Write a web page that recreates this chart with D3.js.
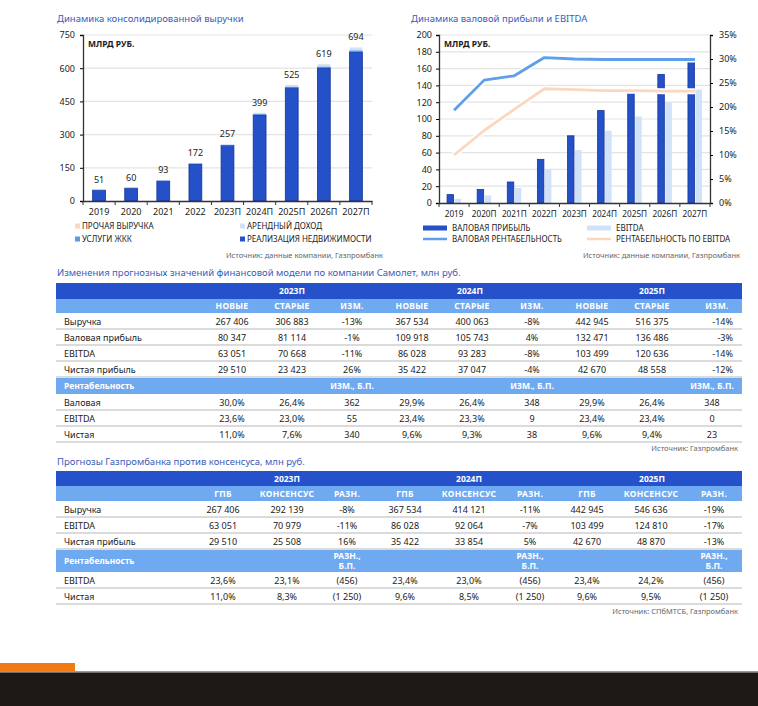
<!DOCTYPE html>
<html>
<head>
<meta charset="utf-8">
<script src="https://cdn.jsdelivr.net/npm/d3@7"></script>
<style>
  body { margin: 0; background: #fff; }
  svg text { font-family: "Noto Sans", Roboto, sans-serif; fill: #222; }
</style>
</head>
<body>
<svg id="page"></svg>
<script>
// ---- data: revenue chart
var years1 = ['2019', '2020', '2021', '2022', '2023П', '2024П', '2025П', '2026П', '2027П'];
var realEstate = [49, 58, 90, 167, 251, 389, 512, 602, 674];
var utilities = [1, 1, 2, 3, 3, 4, 5, 6, 7];
var rent = [1, 1, 1, 2, 3, 5, 7, 10, 12];
var otherRev = [0, 0, 0, 0, 0, 1, 1, 1, 1];
var revTotals = [51, 60, 93, 172, 257, 399, 525, 619, 694];
var revTicks = [0, 150, 300, 450, 600, 750];

// ---- data: gross profit / EBITDA chart
var years2 = ['2019', '2020П', '2021П', '2022П', '2023П', '2024П', '2025П', '2026П', '2027П'];
var grossProfit = [10, 16, 25, 52, 80, 110, 132, 153, 170];
var ebitda = [5, 9, 18, 40, 63, 86, 103, 120, 135];
var grossMargin = [19.3, 25.6, 26.5, 30.3, 30.0, 29.9, 29.9, 29.9, 29.9];
var ebitdaMargin = [10.0, 15.1, 19.5, 23.8, 23.6, 23.4, 23.4, 23.3, 23.3];
var gpTicks = [0, 20, 40, 60, 80, 100, 120, 140, 160, 180, 200];
var pctTicks = [0, 5, 10, 15, 20, 25, 30, 35];

// ---- data: table 1
var t1Years = ['2023П', '2024П', '2025П'];
var t1Cols = ['НОВЫЕ', 'СТАРЫЕ', 'ИЗМ.'];
var t1Rows = [
  ['Выручка', '267 406', '306 883', '-13%', '367 534', '400 063', '-8%', '442 945', '516 375', '-14%'],
  ['Валовая прибыль', '80 347', '81 114', '-1%', '109 918', '105 743', '4%', '132 471', '136 486', '-3%'],
  ['EBITDA', '63 051', '70 668', '-11%', '86 028', '93 283', '-8%', '103 499', '120 636', '-14%'],
  ['Чистая прибыль', '29 510', '23 423', '26%', '35 422', '37 047', '-4%', '42 670', '48 558', '-12%']
];
var t1Margins = [
  ['Валовая', '30,0%', '26,4%', '362', '29,9%', '26,4%', '348', '29,9%', '26,4%', '348'],
  ['EBITDA', '23,6%', '23,0%', '55', '23,4%', '23,3%', '9', '23,4%', '23,4%', '0'],
  ['Чистая', '11,0%', '7,6%', '340', '9,6%', '9,3%', '38', '9,6%', '9,4%', '23']
];

// ---- data: table 2
var t2Cols = ['ГПБ', 'КОНСЕНСУС', 'РАЗН.'];
var t2Rows = [
  ['Выручка', '267 406', '292 139', '-8%', '367 534', '414 121', '-11%', '442 945', '546 636', '-19%'],
  ['EBITDA', '63 051', '70 979', '-11%', '86 028', '92 064', '-7%', '103 499', '124 810', '-17%'],
  ['Чистая прибыль', '29 510', '25 508', '16%', '35 422', '33 854', '5%', '42 670', '48 870', '-13%']
];
var t2Margins = [
  ['EBITDA', '23,6%', '23,1%', '(456)', '23,4%', '23,0%', '(456)', '23,4%', '24,2%', '(456)'],
  ['Чистая', '11,0%', '8,3%', '(1 250)', '9,6%', '8,5%', '(1 250)', '9,6%', '9,5%', '(1 250)']
];

var W = 758, H = 706;
var DARK = '#2450c8', DARK_STROKE = '#17359a', MID = '#5b9be6', LIGHT = '#cfe2f8', PEACH = '#fbd7bd';
var TITLE = '#3a5bb8', HEAD1 = '#2552cb', HEAD2 = '#6fa9ef', GRID = '#e3e3e3', SEP = '#cfcfcf';

var svg = d3.select('#page').attr('width', W).attr('height', H);

function title(x, y, s) {
  svg.append('text').attr('x', x).attr('y', y).text(s)
    .style('font-size', '9.5px').style('fill', TITLE);
}
function source(x, y, s) {
  svg.append('text').attr('x', x).attr('y', y).attr('text-anchor', 'end').text(s)
    .style('font-size', '7.5px').style('fill', '#666');
}

// ================= chart 1 =================
title(57, 22, 'Динамика консолидированной выручки');
var c1 = { l: 83, r: 372, t: 35, b: 201 };
var x1 = d3.scaleBand().domain(years1).range([c1.l, c1.r]).paddingInner(0.6).paddingOuter(0.3);
var y1 = d3.scaleLinear().domain([0, 750]).range([c1.b, c1.t]);

var g1 = svg.append('g');
g1.selectAll('line.grid').data(revTicks.slice(1)).enter().append('line')
  .attr('x1', c1.l).attr('x2', c1.r).attr('y1', y1).attr('y2', y1)
  .attr('stroke', GRID).attr('stroke-width', 1.2);

var layers = [realEstate, utilities, rent, otherRev];
var layerColors = [DARK, MID, LIGHT, PEACH];
years1.forEach(function (yr, i) {
  var base = 0;
  layers.forEach(function (arr, k) {
    var v = arr[i];
    if (v > 0) {
      g1.append('rect')
        .attr('x', x1(yr)).attr('width', x1.bandwidth())
        .attr('y', y1(base + v)).attr('height', y1(base) - y1(base + v))
        .attr('fill', layerColors[k])
        .attr('stroke', k === 0 ? DARK_STROKE : 'none').attr('stroke-width', k === 0 ? 0.8 : 0);
    }
    base += v;
  });
});
g1.selectAll('text.val').data(revTotals).enter().append('text')
  .attr('x', function (d, i) { return x1(years1[i]) + x1.bandwidth() / 2; })
  .attr('y', function (d) { return y1(d) - 7; })
  .attr('text-anchor', 'middle').text(function (d) { return d; })
  .style('font-size', '9px');

var ax1 = g1.append('g').attr('transform', 'translate(' + c1.l + ',0)')
  .call(d3.axisLeft(y1).tickValues(revTicks).tickSize(3).tickPadding(5));
var bx1 = g1.append('g').attr('transform', 'translate(0,' + c1.b + ')')
  .call(d3.axisBottom(x1).tickSize(0).tickPadding(8));
// ticks between categories
g1.selectAll('line.sep').data(d3.range(years1.length + 1)).enter().append('line')
  .attr('x1', function (i) { return c1.l + i * (c1.r - c1.l) / years1.length; })
  .attr('x2', function (i) { return c1.l + i * (c1.r - c1.l) / years1.length; })
  .attr('y1', c1.b).attr('y2', c1.b + 4).attr('stroke', '#333').attr('stroke-width', 1);
[ax1, bx1].forEach(function (a) {
  a.select('.domain').attr('stroke', '#333').attr('stroke-width', 1.3);
  a.selectAll('text').style('font-size', '9px').style('fill', '#222');
});
g1.append('text').attr('x', 88).attr('y', 47).text('МЛРД РУБ.')
  .style('font-size', '8.5px').style('font-weight', 'bold');

var leg1 = [
  { t: 'ПРОЧАЯ ВЫРУЧКА', c: PEACH, x: 75, y: 229 },
  { t: 'АРЕНДНЫЙ ДОХОД', c: LIGHT, x: 240, y: 229 },
  { t: 'УСЛУГИ ЖКК', c: MID, x: 75, y: 242 },
  { t: 'РЕАЛИЗАЦИЯ НЕДВИЖИМОСТИ', c: DARK, x: 240, y: 242 }
];
leg1.forEach(function (d) {
  svg.append('rect').attr('x', d.x).attr('y', d.y - 5.5).attr('width', 5).attr('height', 5).attr('fill', d.c);
  svg.append('text').attr('x', d.x + 7).attr('y', d.y).text(d.t).style('font-size', '8px');
});
source(383, 258, 'Источник: данные компании, Газпромбанк');

// ================= chart 2 =================
title(411, 22, 'Динамика валовой прибыли и EBITDA');
var c2 = { l: 439, r: 710, t: 35, b: 203 };
var x2 = d3.scaleBand().domain(years2).range([c2.l, c2.r]);
var y2 = d3.scaleLinear().domain([0, 200]).range([c2.b, c2.t]);
var y2r = d3.scaleLinear().domain([0, 35]).range([c2.b, c2.t]);
var g2 = svg.append('g');
g2.selectAll('line.grid').data(gpTicks.slice(1)).enter().append('line')
  .attr('x1', c2.l).attr('x2', c2.r).attr('y1', y2).attr('y2', y2)
  .attr('stroke', GRID).attr('stroke-width', 1.2);

var bw = 6.5;
g2.selectAll('rect.gp').data(grossProfit).enter().append('rect')
  .attr('x', function (d, i) { return x2(years2[i]) + x2.bandwidth() * 0.5 - bw - 0.5; })
  .attr('width', bw).attr('y', function (d) { return y2(d); })
  .attr('height', function (d) { return c2.b - y2(d); })
  .attr('fill', DARK).attr('stroke', DARK_STROKE).attr('stroke-width', 0.8);
g2.selectAll('rect.eb').data(ebitda).enter().append('rect')
  .attr('x', function (d, i) { return x2(years2[i]) + x2.bandwidth() * 0.5 + 0.5; })
  .attr('width', bw).attr('y', function (d) { return y2(d); })
  .attr('height', function (d) { return c2.b - y2(d); })
  .attr('fill', LIGHT);

var cx2 = function (d, i) { return x2(years2[i]) + x2.bandwidth() / 2; };
var lineGen = d3.line().x(cx2).y(function (d) { return y2r(d); });
[[ebitdaMargin, PEACH], [grossMargin, '#5d9fe8']].forEach(function (p) {
  g2.append('path').attr('d', lineGen(p[0])).attr('fill', 'none')
    .attr('stroke', '#fff').attr('stroke-width', 6).attr('stroke-linejoin', 'round');
  g2.append('path').attr('d', lineGen(p[0])).attr('fill', 'none')
    .attr('stroke', p[1]).attr('stroke-width', 2.8).attr('stroke-linejoin', 'round');
});

var ax2 = g2.append('g').attr('transform', 'translate(' + c2.l + ',0)')
  .call(d3.axisLeft(y2).tickValues(gpTicks).tickSize(3).tickPadding(4));
var ax2r = g2.append('g').attr('transform', 'translate(' + c2.r + ',0)')
  .call(d3.axisRight(y2r).tickValues(pctTicks).tickSize(3).tickPadding(6)
    .tickFormat(function (d) { return d + '%'; }));
var bx2 = g2.append('g').attr('transform', 'translate(0,' + c2.b + ')')
  .call(d3.axisBottom(x2).tickSize(0).tickPadding(8));
g2.selectAll('line.sep').data(d3.range(years2.length + 1)).enter().append('line')
  .attr('x1', function (i) { return c2.l + i * x2.step(); })
  .attr('x2', function (i) { return c2.l + i * x2.step(); })
  .attr('y1', c2.b).attr('y2', c2.b + 4).attr('stroke', '#333').attr('stroke-width', 1);
[ax2, ax2r, bx2].forEach(function (a) {
  a.select('.domain').attr('stroke', '#333').attr('stroke-width', 1.3);
  a.selectAll('text').style('font-size', '9px').style('fill', '#222');
});
bx2.selectAll('text').style('font-size', '8.2px');
g2.append('text').attr('x', 444).attr('y', 47).text('МЛРД РУБ.')
  .style('font-size', '8.5px').style('font-weight', 'bold');

var leg2 = [
  { t: 'ВАЛОВАЯ ПРИБЫЛЬ', c: DARK, x: 423, y: 231, w: 5 },
  { t: 'EBITDA', c: LIGHT, x: 587, y: 231, w: 5 },
  { t: 'ВАЛОВАЯ РЕНТАБЕЛЬНОСТЬ', c: '#5d9fe8', x: 423, y: 242, w: 2.5 },
  { t: 'РЕНТАБЕЛЬНОСТЬ ПО EBITDA', c: PEACH, x: 587, y: 242, w: 2.5 }
];
leg2.forEach(function (d) {
  svg.append('rect').attr('x', d.x).attr('y', d.y - 3 - d.w / 2).attr('width', 24).attr('height', d.w).attr('fill', d.c);
  svg.append('text').attr('x', d.x + 29).attr('y', d.y).text(d.t).style('font-size', '8px');
});
source(740, 258, 'Источник: данные компании, Газпромбанк');

// ================= tables =================
var TL = 56, TR = 742;

function table(opt) {
  var y = opt.top;
  // header row 1
  svg.append('rect').attr('x', TL).attr('y', y).attr('width', TR - TL).attr('height', opt.h1).attr('fill', HEAD1);
  t1Years.forEach(function (yr, g) {
    svg.append('text').attr('x', opt.yearX[g]).attr('y', y + opt.h1 / 2 + 3.3)
      .attr('text-anchor', 'middle').text(yr)
      .style('font-size', '8.5px').style('font-weight', 'bold').style('fill', '#fff');
  });
  y += opt.h1;
  svg.append('rect').attr('x', TL).attr('y', y).attr('width', TR - TL).attr('height', opt.h2).attr('fill', HEAD2);
  opt.colX.forEach(function (cx, i) {
    svg.append('text').attr('x', cx).attr('y', y + opt.h2 / 2 + 3.3)
      .attr('text-anchor', 'middle').text(opt.cols[i % 3])
      .style('font-size', '8.5px').style('font-weight', 'bold').style('fill', '#fff')
      .style('letter-spacing', '0.3px');
  });
  y += opt.h2;
  function rows(data) {
    data.forEach(function (r) {
      svg.append('text').attr('x', 64).attr('y', y + opt.rh / 2 + 3.5).text(r[0]).style('font-size', '9px');
      r.slice(1).forEach(function (v, j) {
        var ax = opt.valX ? opt.valX(j, r) : { x: opt.colX[j], a: 'middle' };
        svg.append('text').attr('x', ax.x).attr('y', y + opt.rh / 2 + 3.5)
          .attr('text-anchor', ax.a).text(v).style('font-size', '9px');
      });
      y += opt.rh;
      svg.append('line').attr('x1', TL).attr('x2', TR).attr('y1', y).attr('y2', y)
        .attr('stroke', SEP).attr('stroke-width', 1.6);
    });
  }
  rows(opt.rows);
  // margins header
  svg.append('rect').attr('x', TL).attr('y', y + 1).attr('width', TR - TL).attr('height', opt.mh - 1).attr('fill', HEAD2);
  svg.append('text').attr('x', 64).attr('y', y + opt.mh / 2 + 3.5).text('Рентабельность')
    .style('font-size', '8.5px').style('font-weight', 'bold').style('fill', '#fff');
  [2, 5, 8].forEach(function (j) {
    opt.mLabel.forEach(function (ln, k) {
      svg.append('text').attr('x', opt.mLabelX[j]).attr('y', y + opt.mLabelY[k])
        .attr('text-anchor', 'middle').text(ln)
        .style('font-size', '8.5px').style('font-weight', 'bold').style('fill', '#fff');
    });
  });
  y += opt.mh;
  rows(opt.margins);
  return y;
}

title(57, 276, 'Изменения прогнозных значений финансовой модели по компании Самолет, млн руб.');
var t1ColX = d3.range(9).map(function (i) { return 232 + 60 * i; });
table({
  top: 283, h1: 16, h2: 14, rh: 16, mh: 17,
  yearX: [292, 470, 652],
  cols: t1Cols,
  colX: t1ColX.map(function (x, i) { return i === 8 ? 717 : x; }),
  rows: t1Rows, margins: t1Margins,
  valX: function (j, r) {
    if (j === 8 && r[j + 1].indexOf('%') > -1) return { x: 733, a: 'end' };
    if (j === 8) return { x: 712, a: 'middle' };
    return { x: t1ColX[j], a: 'middle' };
  },
  mLabel: ['ИЗМ., Б.П.'], mLabelY: [11.5],
  mLabelX: t1ColX.map(function (x, i) { return i === 8 ? 712 : x; })
});
source(738, 451, 'Источник: Газпромбанк');

title(57, 465, 'Прогнозы Газпромбанка против консенсуса, млн руб.');
var t2ColX = [223, 287, 347, 405, 469, 530, 587, 651, 714];
table({
  top: 471, h1: 15, h2: 15, rh: 16, mh: 23,
  yearX: [287, 469, 652],
  cols: t2Cols, colX: t2ColX,
  rows: t2Rows, margins: t2Margins,
  mLabel: ['РАЗН.,', 'Б.П.'], mLabelY: [9.5, 20],
  mLabelX: t2ColX
});
source(738, 614, 'Источник: СПбМТСБ, Газпромбанк');

// ---- bottom frame
svg.append('rect').attr('x', 0).attr('y', 663).attr('width', 75).attr('height', 8).attr('fill', '#f27a12');
svg.append('rect').attr('x', 0).attr('y', 671).attr('width', W).attr('height', 1.5).attr('fill', '#9a9a9a');
svg.append('rect').attr('x', 0).attr('y', 672.5).attr('width', W).attr('height', H - 672.5).attr('fill', '#1d1915');
</script>
</body>
</html>
